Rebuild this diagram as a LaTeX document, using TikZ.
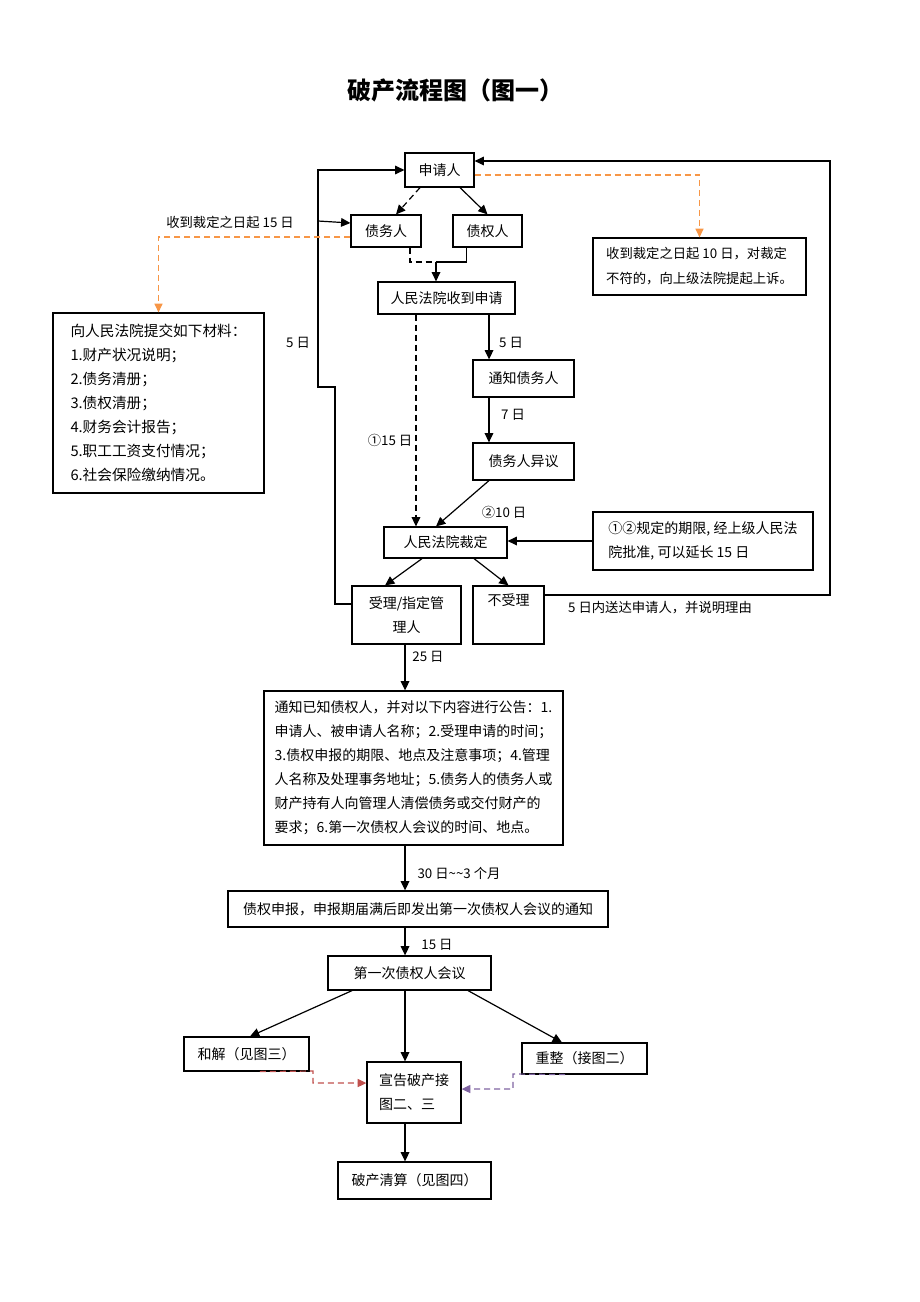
\documentclass[tikz,border=0pt]{standalone}
\usepackage{fontspec}
\setmainfont{Noto Sans CJK SC}
\usetikzlibrary{arrows.meta}
\definecolor{orangeC}{HTML}{F79646}
\definecolor{redC}{HTML}{C0504D}
\definecolor{purpC}{HTML}{8064A2}
\newcommand\BX[7]{\node[box,#6,minimum width={(#4-#2)*0.75pt},minimum height={(#5-#3)*0.75pt}] (#1) at ({(#2+#4)/2},{(#3+#5)/2}) {#7};}
\begin{document}
\begin{tikzpicture}[x=0.75pt,y=-0.75pt,
  box/.style={draw,line width=0.9pt,inner sep=0pt,font=\fontsize{10.5pt}{18pt}\selectfont,align=center},
  dsh/.style={dash pattern=on 4.5pt off 3pt},
  arr/.style={line width=0.9pt,-{Triangle[length=7pt,width=6.5pt]}},
  ln/.style={line width=0.9pt},
  oarr/.style={line width=0.9pt,dsh,color=orangeC,-{Triangle[length=6.5pt,width=6pt]}},
  rarr/.style={line width=0.9pt,dsh,color=redC,-{Triangle[length=6.5pt,width=6pt]}},
  parr/.style={line width=0.9pt,dsh,color=purpC,-{Triangle[length=6.5pt,width=6pt]}},
  lbl/.style={font=\fontsize{10pt}{12pt}\selectfont,inner sep=1pt}]
\useasboundingbox (0,0) rectangle (920,1302);

\node[font=\fontsize{18pt}{20pt}\selectfont\bfseries] (title) at (455,90) {破产流程图（图一）};

% boxes
\BX{sq}{405}{153}{474}{187}{}{申请人}
\BX{zw}{351}{215}{421}{247}{}{债务人}
\BX{zq}{453}{215}{522}{247}{}{债权人}
\BX{r10}{593}{238}{806}{295}{align=left,font=\fontsize{10pt}{18.75pt}\selectfont}{收到裁定之日起 10 日，对裁定\\不符的，向上级法院提起上诉。}
\BX{fy}{378}{282}{515}{314}{}{人民法院收到申请}
\BX{cl}{53}{313}{264}{493}{align=left,font=\fontsize{11pt}{18pt}\selectfont}{向人民法院提交如下材料：\\1.财产状况说明；\\2.债务清册；\\3.债权清册；\\4.财务会计报告；\\5.职工工资支付情况；\\6.社会保险缴纳情况。}
\BX{tz}{473}{360}{574}{397}{}{通知债务人}
\BX{yy}{473}{443}{574}{480}{}{债务人异议}
\BX{cd}{384}{527}{507}{558}{}{人民法院裁定}
\BX{r12}{593}{512}{813}{570}{align=left}{①②规定的期限, 经上级人民法\\院批准, 可以延长 15 日}
\BX{sl}{352}{586}{461}{644}{}{受理/指定管\\理人}
\BX{bsl}{473}{586}{544}{644}{}{不受理\\\strut}
\BX{tzz}{264}{691}{563}{845}{align=left}{通知已知债权人，并对以下内容进行公告：1.\\申请人、被申请人名称；2.受理申请的时间；\\3.债权申报的期限、地点及注意事项；4.管理\\人名称及处理事务地址；5.债务人的债务人或\\财产持有人向管理人清偿债务或交付财产的\\要求；6.第一次债权人会议的时间、地点。}
\BX{sb}{228}{891}{608}{927}{}{债权申报，申报期届满后即发出第一次债权人会议的通知}
\BX{dyc}{328}{956}{491}{990}{}{第一次债权人会议}
\BX{hj}{184}{1037}{309}{1071}{}{和解（见图三）}
\BX{cz}{522}{1043}{647}{1074}{}{重整（接图二）}
\BX{xg}{367}{1062}{461}{1123}{align=left}{宣告破产接\\图二、三}
\BX{qs}{338}{1162}{491}{1199}{}{破产清算（见图四）}

% labels
\node[lbl] (l15) at (230,222) {收到裁定之日起 15 日};
\node[lbl] (l5a) at (298,343) {5 日};
\node[lbl] (l5b) at (511,343) {5 日};
\node[lbl] (l7) at (513,415) {7 日};
\node[lbl] (lc1) at (390,440) {①15 日};
\node[lbl] (lc2) at (504,512) {②10 日};
\node[lbl] (lsd) at (660,608) {5 日内送达申请人，并说明理由};
\node[lbl] (l25) at (428,657) {25 日};
\node[lbl] (l30) at (459,873) {30 日\textasciitilde\textasciitilde 3 个月};
\node[lbl] (l15b) at (437,945) {15 日};

% coordinates
\coordinate (m) at (436,262);
\coordinate (L1) at (335,387);
\coordinate (L2) at (318,387);
\coordinate (L3) at (318,221);
\coordinate (R1) at (830,595);
\coordinate (H1) at (313,1071);
\coordinate (P1) at (513,1074);

% connectors
\draw[arr,dsh] ([xshift=-14.6pt]sq.south) -- ([xshift=7.5pt]zw.north);
\draw[arr] ([xshift=15.4pt]sq.south) -- (zq.north);
\draw[ln,dsh] ([xshift=18pt]zw.south) |- (m);
\draw[ln] ([xshift=-16pt]zq.south) |- (m);
\draw[arr] (m) -- (m |- fy.north);

\draw[arr] ([yshift=8.25pt]sl.west) -| (L1) -- (L2) |- (sq.west);
\draw[arr] (L3) -- ([yshift=6pt]zw.west);
\draw[oarr] ([yshift=-4.5pt]zw.west) -| (cl.north);
\draw[oarr] ([yshift=-3.75pt]sq.east) -| (r10.north);
\draw[arr] ([yshift=15pt]bsl.east) -- (R1) |- ([yshift=6.75pt]sq.east);

\draw[arr,dsh] ([xshift=-22.9pt]fy.south) coordinate (d1) -- (d1 |- cd.north);
\draw[arr] ([xshift=31.9pt]fy.south) coordinate (d2) -- (d2 |- tz.north);
\draw[arr] ([xshift=-25.9pt]tz.south) coordinate (d3) -- (d3 |- yy.north);
\draw[arr] ([xshift=-25.9pt]yy.south) -- ([xshift=-7.1pt]cd.north);
\draw[arr] (r12.west) -- (r12.west -| cd.east);
\draw[arr] ([xshift=-17.6pt]cd.south) -- ([xshift=-16.1pt]sl.north);
\draw[arr] ([xshift=21.4pt]cd.south) -- (bsl.north);

\draw[arr] ([xshift=-1.1pt]sl.south) coordinate (d4) -- (d4 |- tzz.north);
\draw[arr] (d4 |- tzz.south) coordinate (d5) -- (d5 |- sb.north);
\draw[arr] (d5 |- sb.south) coordinate (d6) -- (d6 |- dyc.north);
\draw[arr] ([xshift=-43.1pt]dyc.south) -- ([xshift=2.6pt]hj.north);
\draw[arr] (d6 |- dyc.south) coordinate (d7) -- (d7 |- xg.north);
\draw[arr] ([xshift=43.9pt]dyc.south) -- ([xshift=-16.9pt]cz.north);
\draw[rarr] ([xshift=10pt]hj.south) -- (H1) |- ([yshift=7.1pt]xg.west);
\draw[parr] ([xshift=-14.6pt]cz.south) -- (P1) |- ([yshift=2.6pt]xg.east);
\draw[arr] (d7 |- xg.south) coordinate (d8) -- (d8 |- qs.north);
\end{tikzpicture}
\end{document}
